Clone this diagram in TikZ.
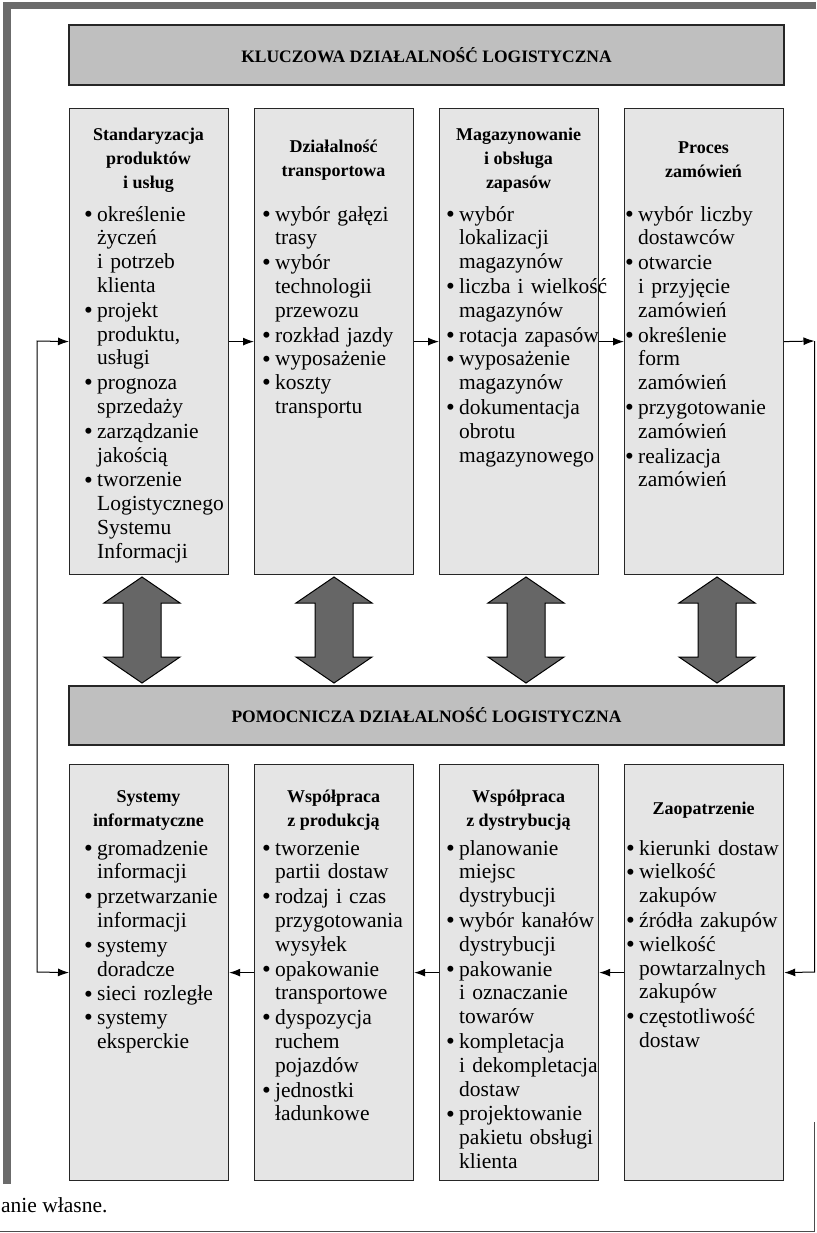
\documentclass[tikz,border=0pt]{standalone}
\usepackage{fontspec}
\setmainfont{Liberation Serif}
\usetikzlibrary{arrows.meta}
\tikzset{>={Latex[length=11pt,width=8pt]}}
\setlength{\lineskip}{0pt}
\tikzstyle{naglowek}=[rectangle,draw=black!85,fill=black!25,line width=1.2pt,minimum width=715pt,minimum height=60pt,inner sep=0pt,font=\fontsize{17.5}{20}\selectfont\bfseries]
\tikzstyle{kolumna}=[rectangle,draw=black!85,fill=black!10,line width=1.2pt,minimum width=159pt,anchor=north west,inner sep=0pt]
\tikzstyle{tytul}=[align=center,inner sep=0pt,font=\fontsize{18}{24}\selectfont\bfseries]
\tikzstyle{lista}=[anchor=north west,inner sep=0pt,text width=200pt,font=\fontsize{21.5}{23.8}\selectfont]
\tikzstyle{strzalka}=[draw=black,fill=black!60,line width=1pt,line join=miter]
\tikzstyle{linia}=[line width=1pt,draw=black]
\newcommand{\kropka}{\raisebox{-1.2pt}{\fontsize{25}{0}\selectfont\textbullet}}
\newcommand{\pkt}[1]{\noindent\makebox[13pt][l]{\kropka}\begin{tabular}[t]{@{}l@{}}#1\end{tabular}\par}

\begin{document}
\begin{tikzpicture}[x=1pt,y=-1pt]
    \useasboundingbox (0,0) rectangle (816,1233);
    % ramka
    \draw[line width=7.5pt,draw=black!58] (7,1184) -- (7,5.5) -- (816,5.5);
    \draw[line width=1.2pt,draw=black!70] (0,1231.5) -- (814.5,1231.5) -- (814.5,1122);

    \node[naglowek] (kd) at (426.5,55) {KLUCZOWA DZIAŁALNOŚĆ LOGISTYCZNA};
    \node[naglowek,minimum height=59pt] (pd) at (426.5,715.5) {POMOCNICZA DZIAŁALNOŚĆ LOGISTYCZNA};

    % kluczowa
    \foreach \i in {1,...,4} {
        \node[kolumna,minimum height=466pt] (k\i) at (69+185*\i-185,108) {};
        \node[kolumna,minimum height=416pt] (p\i) at (69+185*\i-185,764) {};
    };

    \node[tytul] (k1t) at (148.5,160) {Standaryzacja\\produktów\\i usług};
    \node[lista] (k1l) at (84,204.3) {
        \pkt{określenie\\życzeń\\i potrzeb\\klienta}
        \pkt{projekt\\produktu,\\usługi}
        \pkt{prognoza\\sprzedaży}
        \pkt{zarządzanie\\jakością}
        \pkt{tworzenie\\Logistycznego\\Systemu\\Informacji}};

    \node[tytul] (k2t) at (333.5,160) {Działalność\\transportowa};
    \node[lista] (k2l) at (262,204.3) {
        \pkt{wybór gałęzi\\trasy}
        \pkt{wybór\\technologii\\przewozu}
        \pkt{rozkład jazdy}
        \pkt{wyposażenie}
        \pkt{koszty\\transportu}};

    \node[tytul] (k3t) at (518.5,160) {Magazynowanie\\i obsługa\\zapasów};
    \node[lista] (k3l) at (446,204.3) {
        \pkt{wybór\\lokalizacji\\magazynów}
        \pkt{liczba i wielkość\\magazynów}
        \pkt{rotacja zapasów}
        \pkt{wyposażenie\\magazynów}
        \pkt{dokumentacja\\obrotu\\magazynowego}};

    \node[tytul] (k4t) at (703.5,160) {Proces\\zamówień};
    \node[lista] (k4l) at (625,204.3) {
        \pkt{wybór liczby\\dostawców}
        \pkt{otwarcie\\i przyjęcie\\zamówień}
        \pkt{określenie\\form\\zamówień}
        \pkt{przygotowanie\\zamówień}
        \pkt{realizacja\\zamówień}};

    % pomocnicza
    \node[tytul] (p1t) at (148.5,810) {Systemy\\informatyczne};
    \node[lista] (p1l) at (84,838.3) {
        \pkt{gromadzenie\\informacji}
        \pkt{przetwarzanie\\informacji}
        \pkt{systemy\\doradcze}
        \pkt{sieci rozległe}
        \pkt{systemy\\eksperckie}};

    \node[tytul] (p2t) at (333.5,810) {Współpraca\\z produkcją};
    \node[lista] (p2l) at (262,838.3) {
        \pkt{tworzenie\\partii dostaw}
        \pkt{rodzaj i czas\\przygotowania\\wysyłek}
        \pkt{opakowanie\\transportowe}
        \pkt{dyspozycja\\ruchem\\pojazdów}
        \pkt{jednostki\\ładunkowe}};

    \node[tytul] (p3t) at (518.5,810) {Współpraca\\z dystrybucją};
    \node[lista] (p3l) at (446,838.3) {
        \pkt{planowanie\\miejsc\\dystrybucji}
        \pkt{wybór kanałów\\dystrybucji}
        \pkt{pakowanie\\i oznaczanie\\towarów}
        \pkt{kompletacja\\i dekompletacja\\dostaw}
        \pkt{projektowanie\\pakietu obsługi\\klienta}};

    \node[tytul] (p4t) at (703.5,810) {Zaopatrzenie};
    \node[lista] (p4l) at (626,838.3) {
        \pkt{kierunki dostaw}
        \pkt{wielkość\\zakupów}
        \pkt{źródła zakupów}
        \pkt{wielkość\\powtarzalnych\\zakupów}
        \pkt{częstotliwość\\dostaw}};

    % strzalki miedzy poziomami
    \foreach \x in {142,334,526,717} {
        \draw[strzalka] (\x,577) -- (\x+38,603) -- (\x+19,603) -- (\x+19,657) -- (\x+38,657) -- (\x,683)
            -- (\x-38,657) -- (\x-19,657) -- (\x-19,603) -- (\x-38,603) -- cycle;
    };

    % przeplyw
    \foreach \i in {1,...,3} {
        \pgfmathtruncatemacro{\iplusone}{\i + 1};
        \draw[linia,->] (k\i.east) -- (k\iplusone.west);
        \draw[linia,->] (p\iplusone.west) -- (p\i.east);
    };
    \coordinate (lg) at (37,341);
    \coordinate (ld) at (37,972);
    \coordinate (pg) at (814.5,341);
    \coordinate (pdl) at (814.5,972);
    \draw[linia,<->] (k1.west) -- (lg) -- (ld) -- (p1.west);
    \draw[linia,->] (k4.east) -- (pg);
    \draw[linia,->] (pg) -- (pdl) -- (p4.east);

    \node[anchor=base west,inner sep=0pt,font=\fontsize{21.5}{24}\selectfont] (zrodlo) at (1,1212) {anie własne.};
\end{tikzpicture}
\end{document}
